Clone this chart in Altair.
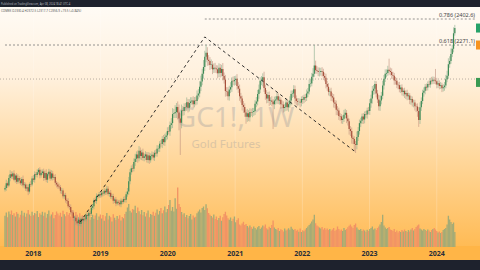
import altair as alt
import pandas as pd

W, H = 480, 270
START = pd.Timestamp("2017-07-31")

# weekly closes (USD), Aug 2017 -> Apr 2024
closes = [
    1548,1572,1561,1598,1618,1606,1622,1590,1611,1580,1598,1586,1572,1594,1562,1566,1545,1552,1530,1568,1566,1596,1590,1618,1614,
    1628,1640,1612,1624,1632,1598,1624,1590,1618,1630,1596,1622,1600,1604,1574,1566,1556,1552,1534,1536,1506,1512,1486,1482,1456,
    1452,1426,1424,1396,1398,1380,1370,1388,1366,1392,1384,1392,1390,1412,1408,1420,1418,1448,1456,1486,1482,1508,1506,1516,1512,
    1524,1520,1534,1526,1544,1518,1524,1504,1508,1484,1490,1470,1478,1474,1466,1484,1478,1492,1488,1516,1530,1582,1628,1648,1646,
    1680,1696,1718,1698,1736,1710,1728,1700,1708,1718,1690,1712,1688,1710,1716,1702,1726,1722,1746,1748,1772,1770,1796,1780,1806,
    1814,1836,1834,1866,1876,1922,1926,1932,1958,1930,1900,1878,1940,1938,1958,1956,1982,1954,1978,1986,1990,1972,1990,1988,2016,
    2026,2060,2086,2126,2160,2212,2232,2196,2190,2170,2172,2148,2156,2152,2148,2128,2156,2130,2150,2114,2096,2038,2036,2012,2046,
    2058,2090,2088,2094,2100,2064,2050,2012,2000,1968,1958,1930,1908,1926,1906,1932,1930,1932,1938,1974,1986,2024,2046,2090,2090,
    2108,2054,2024,2000,2018,1988,1990,1984,1972,1990,1996,2012,1990,1994,1972,1970,1952,1958,1980,1956,1972,1990,2024,2026,2048,
    2000,1988,1984,1984,1980,1998,1994,2008,2004,2026,2036,2074,2076,2110,2126,2168,2144,2140,2134,2134,2140,2136,2114,2106,2074,
    2060,2034,2036,2012,2006,1980,1974,1944,1940,1912,1910,1892,1898,1918,1928,1900,1886,1846,1836,1802,1796,1770,1766,1806,1836,
    1876,1888,1910,1894,1922,1920,1940,1938,1976,2000,2040,2050,2074,2026,1996,1962,1990,2014,2066,2100,2126,2130,2146,2140,2134,
    2120,2116,2092,2090,2070,2068,2048,2056,2034,2040,2022,2028,2012,2016,1994,1998,1980,1980,1962,1960,1938,1892,1956,1988,2030,
    2040,2060,2056,2074,2072,2090,2088,2096,2092,2088,2072,2078,2064,2068,2052,2058,2066,2098,2116,2174,2190,2226,2252,2330.4,2356.9,
]
first_open = 1540

# upper / lower wick lengths (USD)
hi_wick = [
    12,18,9,15,20,14,10,16,8,13,19,11,14,9,17,12,10,15,13,8,16,12,18,14,11,
    15,9,13,17,10,14,12,19,8,15,11,16,13,10,14,9,12,15,11,13,10,8,12,9,14,
    10,13,9,11,8,12,10,14,9,12,11,15,10,13,9,16,12,14,11,10,15,13,9,12,14,
    11,9,13,10,15,12,8,14,10,11,9,13,12,10,14,11,9,12,15,13,18,22,16,14,20,
    18,25,15,20,24,17,13,19,14,16,12,18,15,13,17,14,12,16,19,15,13,18,14,20,16,
    15,19,22,18,25,30,22,35,20,28,40,25,30,22,18,20,24,16,19,21,17,22,18,20,25,
    22,28,30,25,35,30,39,28,24,20,26,18,22,25,17,20,23,19,21,30,18,24,20,22,19,
    25,18,22,20,16,24,19,21,17,15,20,18,14,22,16,19,17,21,15,18,22,20,25,18,24,
    20,28,16,19,15,18,17,22,14,20,16,18,15,17,13,19,16,14,20,15,18,22,17,15,20,
    18,16,14,19,15,13,17,12,16,20,18,22,25,20,28,103,24,20,18,23,16,19,15,17,20,
    16,18,14,19,15,17,13,16,18,14,15,12,17,25,20,14,16,13,15,18,12,14,16,28,20,
    18,15,14,17,13,16,14,18,22,20,24,19,16,14,18,22,26,20,24,19,22,18,20,56,17,
    19,16,14,18,15,13,17,14,16,12,15,13,17,14,12,16,13,15,14,12,16,20,25,18,15,
    17,14,16,13,18,15,20,16,14,58,17,15,14,16,12,15,18,22,25,30,24,28,20,30,16,
]
lo_wick = [
    10,14,12,9,16,11,13,8,15,12,10,14,9,13,11,16,12,14,18,10,13,9,12,15,11,
    13,10,15,12,9,14,11,13,16,10,12,9,14,11,13,15,12,10,14,16,11,13,12,15,10,
    14,12,16,13,15,18,12,14,10,13,11,15,12,10,14,9,13,11,12,15,10,14,12,9,13,
    11,14,10,13,12,9,15,11,13,16,12,14,10,13,11,15,12,9,13,14,12,16,15,13,18,
    14,20,16,22,15,18,21,14,17,19,13,16,18,12,15,14,17,13,16,15,18,14,20,16,19,
    17,20,15,22,18,25,20,24,30,35,60,163,28,25,22,20,18,24,19,21,17,20,16,22,18,
    20,19,22,18,25,20,28,30,22,25,20,24,18,22,20,25,19,23,18,22,20,28,24,20,22,
    18,24,20,22,25,19,21,23,20,28,30,22,35,25,20,22,18,24,19,21,17,20,25,18,22,
    28,20,30,24,22,25,20,22,126,25,20,22,18,20,24,19,22,18,20,16,22,18,24,20,18,
    25,22,20,18,24,19,21,17,20,16,18,15,17,14,20,16,18,15,20,22,18,24,20,19,22,
    20,18,22,24,20,25,22,28,24,20,22,18,20,16,18,24,22,28,25,30,26,35,41,22,20,
    18,20,16,22,19,17,21,18,20,22,25,20,28,20,18,22,24,19,17,20,16,18,15,19,17,
    20,18,22,19,17,21,16,20,18,22,19,24,20,18,22,25,20,24,22,28,30,35,20,18,16,
    20,18,16,15,14,17,16,15,18,16,20,18,17,15,19,16,18,14,15,16,18,14,16,18,12,
]
# weekly volume (thousand contracts)
volume = [
    1250,1380,1190,1420,1310,1460,1280,1350,1220,1400,1330,1180,1290,1450,1260,1370,1210,1340,1480,1300,1240,1410,1270,1360,1320,
    1440,1200,1350,1290,1410,1250,1380,1170,1320,1460,1230,1300,1390,1150,1280,1420,1340,1260,1370,1210,1450,1310,1230,1400,1290,
    1360,1220,1470,1330,1250,1400,1290,1180,1350,1120,1270,1060,1240,1310,1150,1380,1090,1200,1290,1130,1260,1350,1080,1220,1300,
    1140,1280,1050,1230,1360,1100,1250,1190,1020,1310,1170,1080,1240,1130,1270,1060,1200,1150,1320,1410,1580,1720,1450,1380,1520,
    1490,1650,1360,1580,1430,1310,1480,1270,1400,1220,1350,1460,1190,1320,1280,1410,1250,1370,1500,1300,1440,1560,1350,1470,1620,
    1390,1520,1680,1880,1450,1600,1420,1950,1530,2380,1720,1600,1400,1300,1350,1200,1280,1150,1240,1320,1100,1260,1180,1210,1350,
    1420,1500,1380,1560,1620,1480,1710,1550,1360,1290,1240,1180,1300,1120,1220,1080,1160,1250,1050,1190,1320,1410,1260,1150,1090,
    1180,1040,1130,1220,990,1080,1150,900,860,940,1010,880,920,840,780,860,800,730,820,760,700,790,840,720,780,
    860,820,900,750,700,810,760,880,1060,780,720,690,760,640,710,680,620,740,660,700,750,690,810,730,680,
    720,650,690,610,740,600,670,630,700,760,820,880,940,1020,1100,1290,950,860,820,780,740,800,700,760,690,
    740,680,720,650,700,760,640,690,820,720,660,700,640,760,680,720,790,850,900,820,760,880,940,780,700,
    680,720,640,700,660,600,690,640,720,760,820,700,740,680,760,820,900,1000,1290,860,780,720,760,800,700,
    680,640,720,600,660,580,640,600,680,620,700,640,600,680,620,700,760,660,720,800,860,900,740,700,660,
    720,680,640,700,660,600,680,720,760,700,640,580,620,560,600,680,720,760,900,1250,1100,1000,920,980,600,
]

years = [2018, 2019, 2020, 2021, 2022, 2023, 2024]
fib_labels = ["0.786 (2402.6)", "0.618 (2271.1)"]
fib_prices = [2402.6, 2271.1]
fib_starts = ["2020-07-20", "2017-07-31"]
level_price = [2099]
trend_dates = ["2018-09-13", "2020-07-20", "2022-10-17"]
trend_prices = [1376, 2312, 1730]
tag_prices = [2356.9, 2271.1, 2082]
tag_colors = ["#26a269", "#f7931e", "#3a9a52"]

n = min(len(closes), len(hi_wick), len(lo_wick), len(volume))
closes = closes[:n]
dates = [START + pd.Timedelta(weeks=i) for i in range(n)]
opens = [first_open] + closes[:-1]
df = pd.DataFrame({"date": dates, "open": opens, "close": closes,
                   "hw": hi_wick[:n], "lw": lo_wick[:n], "vol": volume[:n]})
df["high"] = df[["open", "close"]].max(axis=1) + df["hw"]
df["low"] = df[["open", "close"]].min(axis=1) - df["lw"]
df["up"] = df["close"] >= df["open"]

xs = alt.Scale(domain=[alt.DateTime(year=2017, month=7, date=31),
                       alt.DateTime(year=2024, month=7, date=26, hours=14)], nice=False)
ys = alt.Scale(domain=[1133.4, 2498.7], nice=False, zero=False)
vs = alt.Scale(domain=[-920, 9880], nice=False, zero=False)
one = pd.DataFrame({"a": [0]})
FONT = "Noto Sans"

grad = alt.Gradient(gradient="linear", x1=0, x2=0, y1=0, y2=1, stops=[
    alt.GradientStop(offset=0, color="#fffbf5"),
    alt.GradientStop(offset=0.3, color="#fff0dc"),
    alt.GradientStop(offset=0.65, color="#ffd699"),
    alt.GradientStop(offset=1, color="#ffbb55")])

bg = alt.Chart(one).mark_rect(color=grad).encode(
    x=alt.value(0), x2=alt.value(W), y=alt.value(7), y2=alt.value(246))
topband = alt.Chart(one).mark_rect(color="#1e222d").encode(
    x=alt.value(0), x2=alt.value(W), y=alt.value(0), y2=alt.value(7))
axisband = alt.Chart(one).mark_rect(color="#ffb547").encode(
    x=alt.value(0), x2=alt.value(W), y=alt.value(246), y2=alt.value(260))
botband = alt.Chart(one).mark_rect(color="#1e222d").encode(
    x=alt.value(0), x2=alt.value(W), y=alt.value(260), y2=alt.value(H))

ydf = pd.DataFrame({"d": [pd.Timestamp(f"{y}-01-01") for y in years], "t": [str(y) for y in years]})
grid = alt.Chart(ydf).mark_rule(color="white", opacity=0.2, strokeWidth=1).encode(
    x=alt.X("d:T", scale=xs, axis=None), y=alt.value(7), y2=alt.value(246))
ylab = alt.Chart(ydf).mark_text(font=FONT, fontSize=7, fontWeight="bold", color="#2a2e39",
                                baseline="middle").encode(
    x=alt.X("d:T", scale=xs, axis=None), y=alt.value(253.5), text="t:N")

wm1 = alt.Chart(one).mark_text(text="GC1!, 1W", font=FONT, fontSize=28, color="#8a8f99",
                               opacity=0.3, align="center", baseline="alphabetic").encode(
    x=alt.value(235), y=alt.value(127))
wm2 = alt.Chart(one).mark_text(text="Gold Futures", font=FONT, fontSize=11.5, color="#8a8f99",
                               opacity=0.3, align="center", baseline="alphabetic").encode(
    x=alt.value(226), y=alt.value(147.5))

vol = alt.Chart(df).mark_bar(size=1.35).encode(
    x=alt.X("date:T", scale=xs, axis=None),
    y=alt.Y("vol:Q", scale=vs, axis=None), y2=alt.datum(0),
    color=alt.condition("datum.up", alt.value("#a4ab76"), alt.value("#f29465")))

fdf = pd.DataFrame({"label": fib_labels, "price": fib_prices,
                    "start": pd.to_datetime(fib_starts)})
fib = alt.Chart(fdf).mark_rule(color="#7a7a7a", strokeDash=[2, 2], strokeWidth=0.8).encode(
    x=alt.X("start:T", scale=xs, axis=None), x2=alt.value(475),
    y=alt.Y("price:Q", scale=ys, axis=None))
fibt = alt.Chart(fdf).mark_text(font=FONT, fontSize=5.5, color="#444444", align="right",
                                baseline="bottom", dy=-1.5).encode(
    x=alt.value(475), y=alt.Y("price:Q", scale=ys, axis=None), text="label:N")
ldf = pd.DataFrame({"price": level_price})
lvl = alt.Chart(ldf).mark_rule(color="#a59d92", strokeDash=[1, 2], strokeWidth=0.8).encode(
    x=alt.value(0), x2=alt.value(475), y=alt.Y("price:Q", scale=ys, axis=None))

wick = alt.Chart(df).mark_rule(strokeWidth=0.6).encode(
    x=alt.X("date:T", scale=xs, axis=None),
    y=alt.Y("low:Q", scale=ys, axis=None), y2="high:Q",
    color=alt.condition("datum.up", alt.value("#86ad8c"), alt.value("#c0907e")))
body = alt.Chart(df).mark_bar(size=1.2).encode(
    x=alt.X("date:T", scale=xs, axis=None),
    y=alt.Y("open:Q", scale=ys, axis=None), y2="close:Q",
    color=alt.condition("datum.up", alt.value("#3c8a55"), alt.value("#a64f3a")))

tdf = pd.DataFrame({"date": pd.to_datetime(trend_dates), "price": trend_prices})
trend = alt.Chart(tdf).mark_line(color="#1a1a1a", strokeDash=[3, 3], strokeWidth=0.9).encode(
    x=alt.X("date:T", scale=xs, axis=None), y=alt.Y("price:Q", scale=ys, axis=None))

gdf = pd.DataFrame({"price": tag_prices, "c": tag_colors})
tags = alt.Chart(gdf).mark_square(size=81, opacity=1, filled=True).encode(
    x=alt.value(480.5), y=alt.Y("price:Q", scale=ys, axis=None),
    color=alt.Color("c:N", scale=None))

h1 = alt.Chart(one).mark_text(text="Published on TradingView.com, Apr 08, 2024 18:41 UTC-4",
                              font=FONT, fontSize=2.6, color="#b2b5be", align="left",
                              baseline="middle").encode(x=alt.value(1), y=alt.value(3.5))
h2 = alt.Chart(one).mark_text(text="COMEX  O2330.4 H2372.5 L2317.7 C2356.9 +19.5 (+0.84%)",
                              font=FONT, fontSize=3.0, color="#555555", align="left",
                              baseline="middle").encode(x=alt.value(1), y=alt.value(11))

chart = alt.layer(bg, topband, axisband, botband, grid, wm1, wm2, vol, lvl, fib, fibt,
                  wick, body, trend, tags, ylab, h1, h2).resolve_scale(
    y="independent", color="independent").properties(
    width=W, height=H, autosize=alt.AutoSizeParams(type="none"), padding=0,
    background="#1e222d").configure_view(strokeWidth=0)

chart.save("out.html", embed_options={"renderer": "svg", "actions": False})
